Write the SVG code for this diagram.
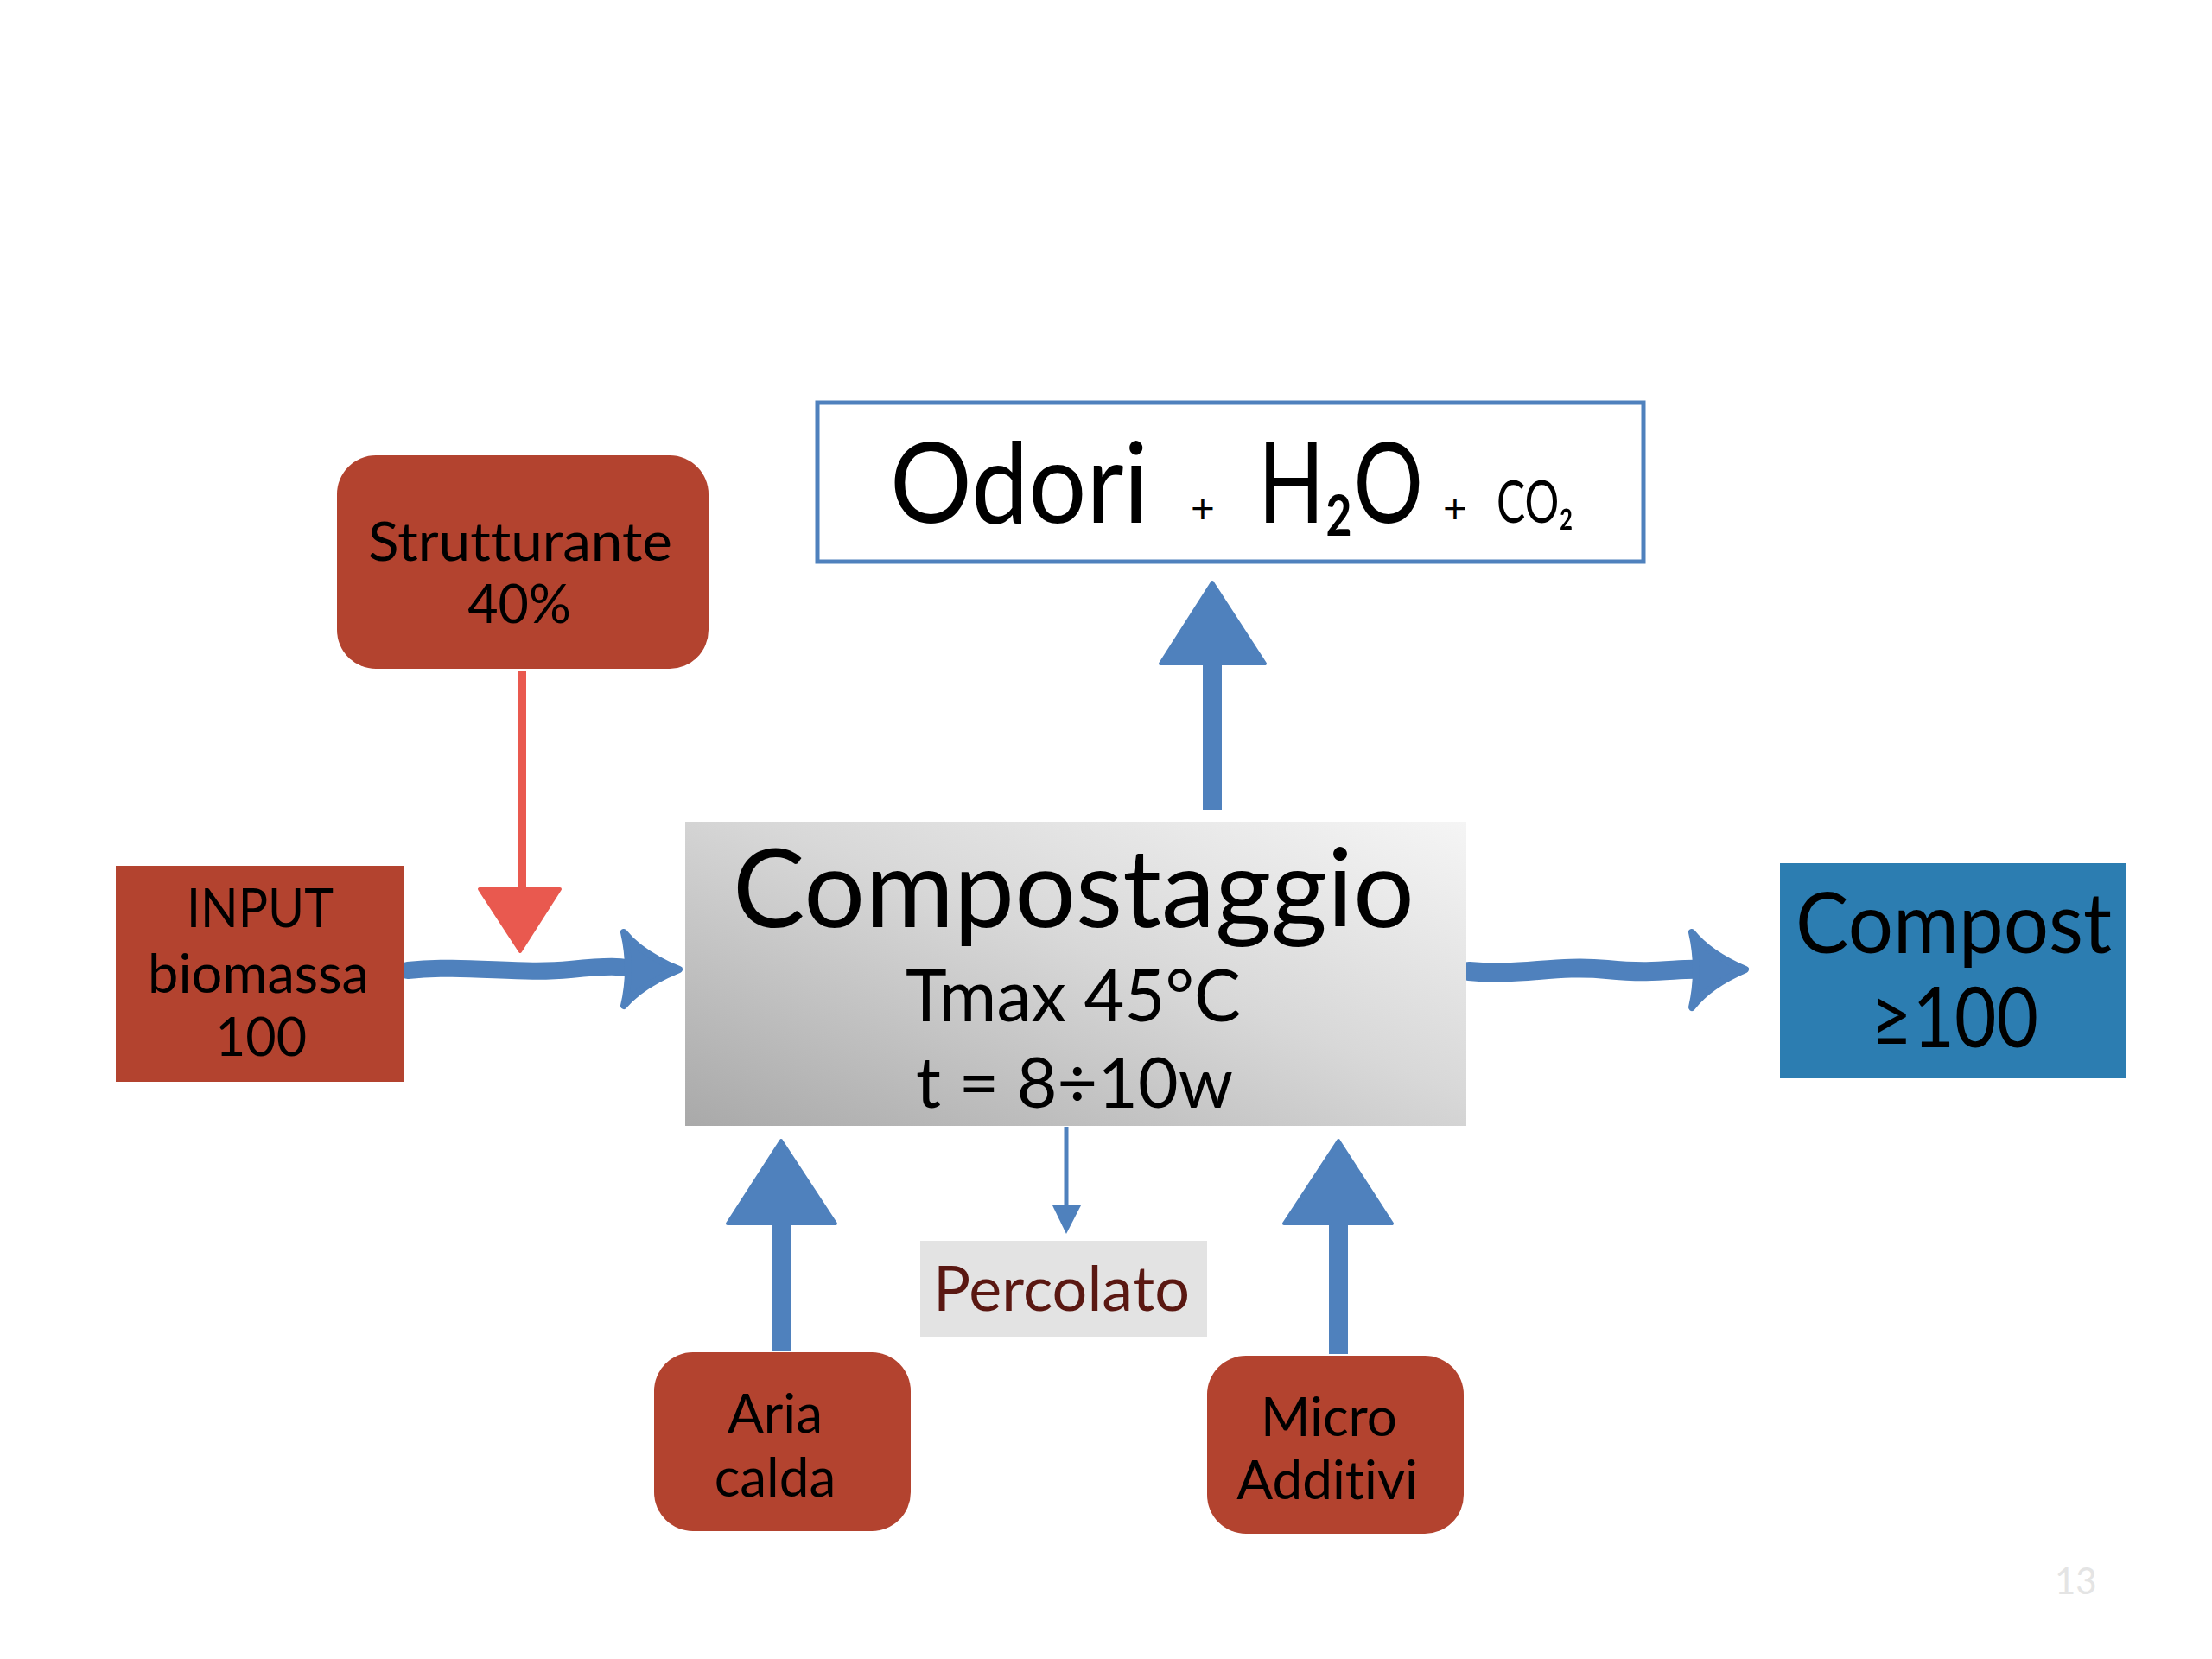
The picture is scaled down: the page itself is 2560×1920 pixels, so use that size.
<svg xmlns="http://www.w3.org/2000/svg" width="2560" height="1920" viewBox="0 0 2560 1920">
<style>
text{font-family:Lato,"Open Sans","Liberation Sans",sans-serif;fill:#000;font-variant-ligatures:none;font-feature-settings:"liga" 0,"clig" 0;}
.red{fill:#b3432f;}
.blue{fill:#4f81bd;}
.bl{stroke:#4f81bd;fill:none;stroke-linecap:round;stroke-linejoin:round;}
.c{text-anchor:middle;}
</style>
<defs>
<linearGradient id="gray" x1="0" y1="1" x2="1" y2="0">
<stop offset="0" stop-color="#a9a9a9"/>
<stop offset="0.55" stop-color="#d8d8d8"/>
<stop offset="1" stop-color="#f5f5f5"/>
</linearGradient>
</defs>
<rect width="2560" height="1920" fill="#fff"/>

<g id="connectors">
<g id="arrow-struct">
<rect x="599" y="776" width="10" height="258" fill="#e9594f"/>
<polygon points="555,1029 648,1029 602,1101" fill="#e9594f" stroke="#e9594f" stroke-width="4" stroke-linejoin="round"/>
</g>
<g id="arrow-input">
<path class="bl" stroke-width="20" d="M472,1123 C540,1116 600,1128 660,1122 S720,1120 740,1122"/>
<path class="blue" stroke="#4f81bd" stroke-width="8" stroke-linejoin="round" d="M722,1079 Q742,1104 786,1122 Q742,1140 722,1164 Q732,1122 722,1079 Z"/>
</g>
<g id="arrow-compost">
<path class="bl" stroke-width="22" d="M1700,1124 C1760,1130 1800,1116 1860,1122 S1940,1120 1970,1122"/>
<path class="blue" stroke="#4f81bd" stroke-width="8" stroke-linejoin="round" d="M1958,1079 Q1978,1104 2020,1122 Q1978,1140 1958,1166 Q1968,1122 1958,1079 Z"/>
</g>
<g id="arrow-odori">
<rect x="1392" y="760" width="22" height="178" class="blue"/>
<polygon points="1403,674 1464,768 1343,768" class="blue" stroke="#4f81bd" stroke-width="4" stroke-linejoin="round"/>
</g>
<g id="arrow-aria">
<rect x="893" y="1410" width="22" height="153" class="blue"/>
<polygon points="904,1320 967,1416 842,1416" class="blue" stroke="#4f81bd" stroke-width="4" stroke-linejoin="round"/>
</g>
<g id="arrow-micro">
<rect x="1538" y="1410" width="22" height="157" class="blue"/>
<polygon points="1549,1320 1611,1416 1486,1416" class="blue" stroke="#4f81bd" stroke-width="4" stroke-linejoin="round"/>
</g>
<g id="arrow-percolato">
<line x1="1234" y1="1304" x2="1234" y2="1400" stroke="#4f81bd" stroke-width="5"/>
<polygon points="1218,1395 1251,1395 1234,1428" class="blue"/>
</g>
</g>

<g id="node-odori">
<rect x="946" y="466" width="956" height="184" fill="#fff" stroke="#4f81bd" stroke-width="5"/>
<text x="1030" y="605" font-size="130" textLength="299" lengthAdjust="spacingAndGlyphs">Odori</text>
<text x="1378" y="605" font-size="48">+</text>
<text transform="translate(1456,605) scale(0.77,1)" x="0" y="0" font-size="130" textLength="248" lengthAdjust="spacingAndGlyphs">H₂O</text>
<text x="1670" y="605" font-size="48">+</text>
<text x="1732" y="605" font-size="67" textLength="89" lengthAdjust="spacingAndGlyphs">CO₂</text>
</g>

<g id="node-strutturante">
<rect x="390" y="527" width="430" height="247" rx="45" class="red"/>
<text class="c" x="602" y="649" font-size="61" textLength="352" lengthAdjust="spacingAndGlyphs">Strutturante</text>
<text class="c" x="601" y="721" font-size="61">40%</text>
</g>

<g id="node-input">
<rect x="134" y="1002" width="333" height="250" class="red"/>
<text class="c" x="301" y="1073" font-size="61" textLength="170" lengthAdjust="spacingAndGlyphs">INPUT</text>
<text class="c" x="299" y="1149" font-size="61" textLength="256" lengthAdjust="spacingAndGlyphs">biomassa</text>
<text class="c" x="302" y="1222" font-size="61">100</text>
</g>

<g id="node-compostaggio">
<rect x="793" y="951" width="904" height="352" fill="url(#gray)"/>
<text x="848" y="1073" font-size="127" textLength="789" lengthAdjust="spacingAndGlyphs">Compostaggio</text>
<text x="1048" y="1182" font-size="84" textLength="388" lengthAdjust="spacingAndGlyphs">Tmax 45°C</text>
<text x="1060" y="1282" font-size="82" textLength="367" lengthAdjust="spacingAndGlyphs">t = 8÷10w</text>
</g>

<g id="node-compost">
<rect x="2060" y="999" width="401" height="249" fill="#2c7db1"/>
<text class="c" x="2261" y="1103" font-size="96" textLength="366" lengthAdjust="spacingAndGlyphs">Compost</text>
<text class="c" x="2262" y="1212" font-size="96" textLength="194" lengthAdjust="spacingAndGlyphs">≥100</text>
</g>

<g id="node-percolato">
<rect x="1065" y="1436" width="332" height="111" fill="#e3e3e3"/>
<text x="1080" y="1517" font-size="71" style="fill:#5a1812" textLength="297" lengthAdjust="spacingAndGlyphs">Percolato</text>
</g>

<g id="node-aria">
<rect x="757" y="1565" width="297" height="207" rx="45" class="red"/>
<text class="c" x="897" y="1658" font-size="62">Aria</text>
<text class="c" x="897" y="1732" font-size="62">calda</text>
</g>

<g id="node-micro">
<rect x="1397" y="1569" width="297" height="206" rx="45" class="red"/>
<text class="c" x="1538" y="1662" font-size="62">Micro</text>
<text class="c" x="1536" y="1735" font-size="62">Additivi</text>
</g>

<text x="2378" y="1845" font-size="42" style="fill:#e4e4e4">13</text>
</svg>
